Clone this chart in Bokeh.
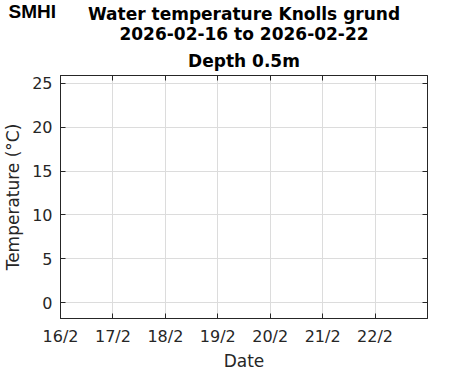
from bokeh.plotting import figure
from bokeh.models import Range1d, FixedTicker, LinearAxis, Title
from bokeh.embed import file_html
from bokeh.resources import INLINE

# Data (no measurements in the period)
dates = []
temps = []
day_ticks = [16, 17, 18, 19, 20, 21, 22]
day_labels = ["16/2", "17/2", "18/2", "19/2", "20/2", "21/2", "22/2"]
temp_ticks = [0, 5, 10, 15, 20, 25]
title_lines = ["Water temperature Knolls grund", "2026-02-16 to 2026-02-22", "Depth 0.5m"]

FONT = "DejaVu Sans"
TXT = "#262626"
FW, FH = 367, 243
TOP = 67

p = figure(frame_width=FW, frame_height=FH, output_backend="svg", toolbar_location=None,
           title=None,
           x_range=Range1d(16, 23), y_range=Range1d(-1.8, 25.9),
           min_border_left=52, min_border_right=36, min_border_top=TOP, min_border_bottom=0)
xb = p.xaxis[0]
yl = p.yaxis[0]

p.line(dates, temps, line_color="#0072bd", line_width=1.5)

# mirrored axes (top/right) with inward ticks only; top one is nearest the frame
for loc, tick, so in [("right", temp_ticks, 0), ("above", day_ticks, 3)]:
    ax = LinearAxis(ticker=FixedTicker(ticks=tick),
                    major_label_overrides={t: "" for t in tick},
                    major_tick_in=5, major_tick_out=0, minor_tick_in=0, minor_tick_out=0,
                    axis_line_color=TXT, major_tick_line_color=TXT,
                    major_label_standoff=so, axis_label_standoff=0)
    p.add_layout(ax, loc)

# titles: first added is closest to the plot
for line, so, va in [(title_lines[2], 9, "bottom"), (title_lines[1], 2, "bottom"),
                     (title_lines[0], -34, "top")]:
    p.add_layout(Title(text=line, align="center", vertical_align=va, text_font=FONT,
                       text_font_size="17px", text_font_style="bold", text_color="black",
                       standoff=so), "above")

# SMHI logo text as the outermost title row, overlapping the first title line
p.add_layout(Title(text="SMHI", align="left", vertical_align="bottom", offset=-52, standoff=-3,
                   text_font="Liberation Sans", text_font_size="19px",
                   text_font_style="bold", text_color="black"), "above")

# axes
xb.ticker = FixedTicker(ticks=day_ticks)
xb.major_label_overrides = {d: l for d, l in zip(day_ticks, day_labels)}
yl.ticker = FixedTicker(ticks=temp_ticks)
yl.axis_label = "Temperature (°C)"
for ax in [xb, yl]:
    ax.major_tick_in = 5
    ax.major_tick_out = 0
    ax.minor_tick_in = 0
    ax.minor_tick_out = 0
    ax.axis_line_color = TXT
    ax.major_tick_line_color = TXT
    ax.major_label_text_font = FONT
    ax.major_label_text_font_size = "16px"
    ax.major_label_text_color = TXT
    ax.axis_label_text_font = FONT
    ax.axis_label_text_font_size = "17px"
    ax.axis_label_text_font_style = "normal"
    ax.axis_label_text_color = TXT
xb.major_label_standoff = 8
yl.major_label_standoff = 8
yl.axis_label_standoff = 6

# x axis title below the tick labels
p.add_layout(Title(text="Date", align="center", text_font=FONT, text_font_size="17px",
                   text_font_style="normal", text_color=TXT, standoff=0), "below")

p.xgrid.ticker = FixedTicker(ticks=day_ticks)
p.ygrid.ticker = FixedTicker(ticks=temp_ticks)
p.grid.grid_line_color = "#dcdcdc"
p.grid.grid_line_width = 1
p.outline_line_color = TXT

open("out.html", "w").write(file_html(p, INLINE))
